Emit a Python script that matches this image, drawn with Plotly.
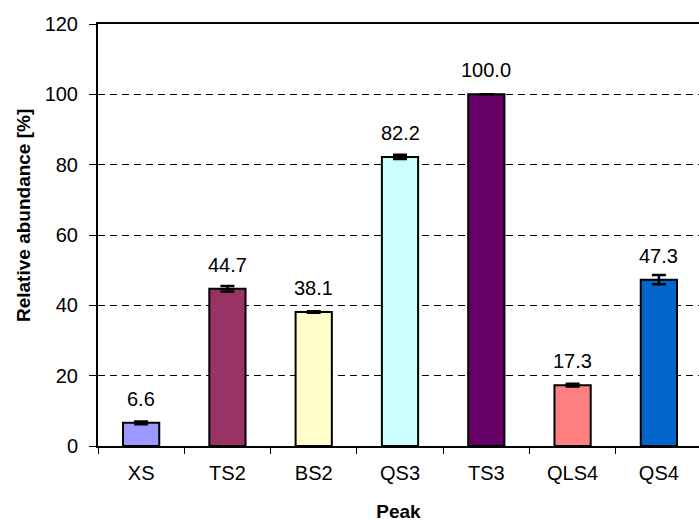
import plotly.graph_objects as go

categories = ["XS", "TS2", "BS2", "QS3", "TS3", "QLS4", "QS4"]
values = [6.6, 44.7, 38.1, 82.2, 100.0, 17.3, 47.3]
errors = [0.4, 0.8, 0.2, 0.6, 0.0, 0.4, 1.3]
colors = ["#9999FF", "#993366", "#FFFFCC", "#CCFFFF", "#660066", "#FF8080", "#0066CC"]
labels = [f"{v:.1f}" for v in values]
y_ticks = [0, 20, 40, 60, 80, 100, 120]

FONT = "Liberation Sans, Arial, sans-serif"

fig = go.Figure()
fig.add_trace(go.Bar(
    x=categories, y=values,
    marker=dict(color=colors, line=dict(color="black", width=2)),
    width=0.42,
    error_y=dict(type="data", array=errors, visible=True, color="black",
                 thickness=2.5, width=7),
    showlegend=False,
))

for c, v, t in zip(categories, values, labels):
    fig.add_annotation(x=c, y=v, text=t, showarrow=False, yanchor="bottom",
                       yshift=11, font=dict(family=FONT, size=20, color="black"))

# y-axis title (placed slightly above the plot centre, as in the reference)
fig.add_annotation(text="<b>Relative abundance [%]</b>", xref="paper", yref="paper",
                   x=0, y=0.545, xshift=-75, xanchor="center", yanchor="middle",
                   textangle=-90, showarrow=False,
                   font=dict(family=FONT, size=19, color="black"))

fig.update_layout(
    width=699, height=522,
    margin=dict(l=98, r=0, t=24, b=76),
    plot_bgcolor="white", paper_bgcolor="white",
    font=dict(family=FONT, size=20, color="black"),
)
fig.update_xaxes(
    range=[-0.5, 6.465], automargin=False,
    showline=True, linecolor="black", linewidth=2, mirror=True,
    ticks="outside", tickson="boundaries", ticklen=6, tickcolor="black", tickwidth=1,
    ticklabelstandoff=8, tickfont=dict(size=20),
    title=dict(text="<b>Peak</b>", font=dict(family=FONT, size=19), standoff=31),
    showgrid=False, zeroline=False,
)
fig.update_yaxes(
    range=[0, 120], tickvals=y_ticks, automargin=False,
    showline=True, linecolor="black", linewidth=2,
    ticks="outside", ticklen=7, tickcolor="black", tickwidth=1,
    ticklabelstandoff=7, tickfont=dict(size=20),
    showgrid=True, gridcolor="black", gridwidth=1, griddash="7px,5px",
    zeroline=False,
)

fig.write_html("out.html",
               config={"displayModeBar": False},
               post_script="document.body.style.margin='0';document.body.style.overflow='hidden';")
